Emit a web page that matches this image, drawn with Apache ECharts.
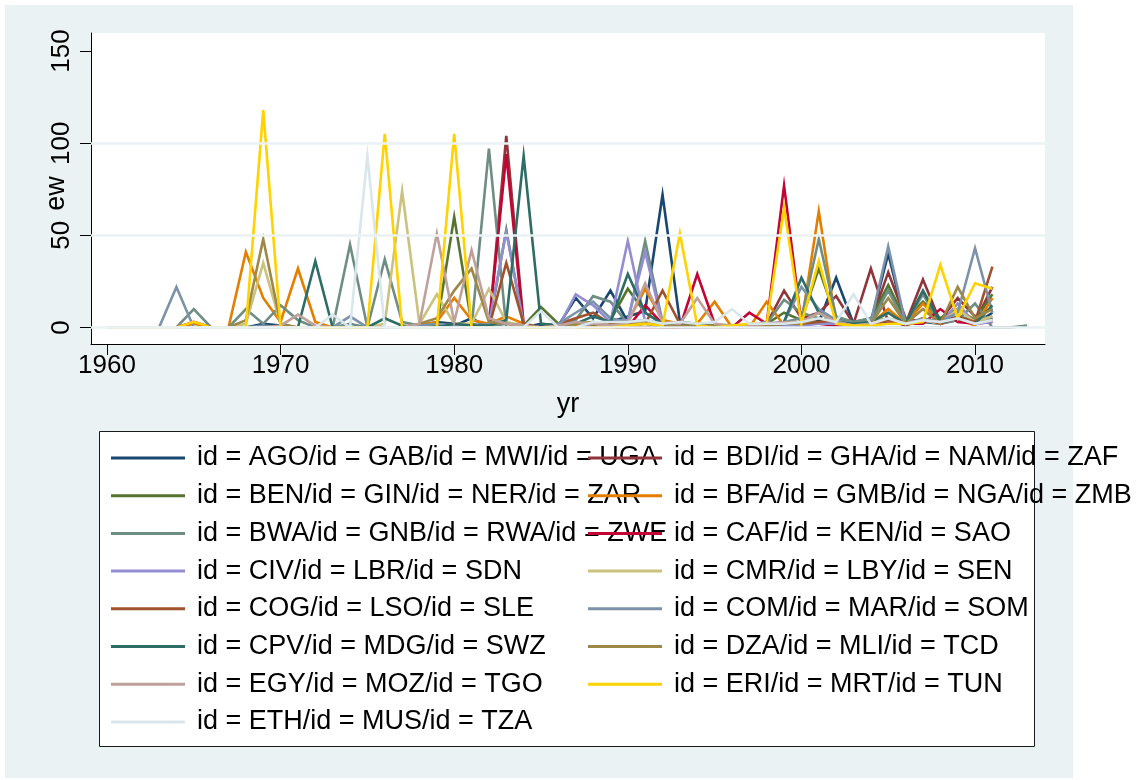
<!DOCTYPE html>
<html>
<head>
<meta charset="utf-8">
<title>ew by yr</title>
<script src="https://cdn.jsdelivr.net/npm/echarts@6/dist/echarts.min.js"></script>
<style>
  html, body { margin: 0; padding: 0; background: #ffffff; }
  #chart { width: 1142px; height: 780px; }
</style>
</head>
<body>
<div id="chart"></div>
<script>
// Years on the x axis (1960-2013)
const years = [
  1960, 1961, 1962, 1963, 1964, 1965, 1966, 1967, 1968, 1969,
  1970, 1971, 1972, 1973, 1974, 1975, 1976, 1977, 1978, 1979,
  1980, 1981, 1982, 1983, 1984, 1985, 1986, 1987, 1988, 1989,
  1990, 1991, 1992, 1993, 1994, 1995, 1996, 1997, 1998, 1999,
  2000, 2001, 2002, 2003, 2004, 2005, 2006, 2007, 2008, 2009,
  2010, 2011, 2012, 2013
];

const xTicks = [1960, 1970, 1980, 1990, 2000, 2010];
const yTicks = [0, 50, 100, 150];
const yGrid = [0, 50, 100];

// Legend labels, one per colour group
const groupNames = [
  'id = AGO/id = GAB/id = MWI/id = UGA',
  'id = BDI/id = GHA/id = NAM/id = ZAF',
  'id = BEN/id = GIN/id = NER/id = ZAR',
  'id = BFA/id = GMB/id = NGA/id = ZMB',
  'id = BWA/id = GNB/id = RWA/id = ZWE',
  'id = CAF/id = KEN/id = SAO',
  'id = CIV/id = LBR/id = SDN',
  'id = CMR/id = LBY/id = SEN',
  'id = COG/id = LSO/id = SLE',
  'id = COM/id = MAR/id = SOM',
  'id = CPV/id = MDG/id = SWZ',
  'id = DZA/id = MLI/id = TCD',
  'id = EGY/id = MOZ/id = TGO',
  'id = ERI/id = MRT/id = TUN',
  'id = ETH/id = MUS/id = TZA'
];

// ew per year, each array starts in 1960
const agoLine = [0,0,0,0,0,0,0,0,0,0, 0,0,0,0,0,0,0,0,0,1, 1,5,0,0,0,1,1,2,2,3, 6,9,72,3,2,1,0,2,1,3, 2,4,3,2,3,40,2,4,3,5, 2,8];
const gabLine = [0,0,0,0,0,0,0,0,0,2, 1,0,0,0,0,0,0,0,1,3, 2,1,0,0,0,2,1,16,5,20, 3,2,1,1,1,1,0,1,1,2, 2,3,27,2,2,3,2,3,2,4, 2,5];
const bdiLine = [0,0,0,0,0,0,0,0,0,0, 0,0,0,0,0,0,0,0,0,0, 0,0,0,104,2,0,0,0,2,3, 0,3,0,0,0,0,0,0,1,3, 2,3,4,2,32,3,2,26,3,4, 3,22];
const ghaLine = [0,0,0,0,0,0,0,0,0,0, 0,0,0,0,0,0,0,0,0,0, 0,0,0,0,0,0,0,0,0,0, 0,0,0,0,0,0,0,0,2,20, 5,8,17,2,3,30,5,3,4,16, 6,10];
const benLine = [0,0,0,0,0,0,0,0,0,0, 0,0,0,0,0,0,0,0,0,1, 60,2,0,53,1,11,2,1,1,4, 21,8,2,1,0,1,0,1,2,8, 4,32,5,3,5,23,4,14,5,10, 4,18];
const bfaLine = [0,0,0,0,0,2,0,0,41,16, 3,32,3,0,0,0,0,0,1,3, 16,4,2,6,2,0,0,1,2,1, 3,21,4,2,2,14,0,0,14,1, 2,63,2,1,2,10,2,13,2,5, 1,16];
const bwaLine = [0,0,0,0,0,0,0,0,0,0, 0,0,0,0,45,0,0,0,0,0, 2,0,97,0,1,0,1,2,3,2, 3,47,3,1,1,0,1,1,0,3, 5,48,6,3,5,4,4,3,3,6, 4,6];
const rwaLine = [0,0,0,0,0,10,0,0,10,2, 12,4,0,0,2,0,37,3,1,0, 1,0,2,0,1,0,2,4,17,14, 2,3,2,1,1,0,1,1,2,15, 8,5,3,2,3,20,2,18,2,4, 13,0,0,1];
const cafLine = [0,0,0,0,0,3,0,0,0,0, 0,0,0,0,0,0,0,0,0,0, 0,0,0,94,0,0,0,0,0,0, 0,12,2,0,29,2,0,8,2,77, 2,2,1,2,2,2,2,2,10,3, 2,3];
const civLine = [0,0,0,0,0,0,0,0,0,0, 0,0,0,0,0,0,0,0,0,0, 0,0,2,52,2,0,0,18,12,3, 47,3,2,1,1,1,0,1,3,1, 1,2,2,1,2,4,2,4,2,13, 2,3];
const sdnLine = [0,0,0,0,0,0,0,0,0,0, 0,0,0,0,0,0,0,0,0,0, 0,0,0,0,0,0,0,0,2,3, 4,41,2,0,0,0,0,0,0,0, 0,0,0,0,0,0,0,0,0,0, 0,0];
const cmrLine = [0,0,0,0,0,0,0,0,2,35, 2,0,0,0,0,0,2,74,2,18, 2,2,21,3,1,0,0,2,3,2, 3,3,1,1,1,1,1,0,1,3, 2,8,3,1,2,8,1,4,2,10, 3,6];
const cogLine = [0,0,0,0,0,0,0,0,0,0, 0,0,0,0,0,0,0,0,0,0, 0,0,0,35,2,0,2,5,8,2, 1,2,20,2,1,1,1,1,1,2, 2,3,4,1,2,4,1,5,2,6, 3,33];
const comLine = [0,0,0,0,22,0,0,0,0,1, 0,0,0,0,6,0,0,0,1,2, 1,1,2,2,1,0,2,8,14,5, 3,4,2,1,1,1,1,1,2,3, 22,10,4,2,3,44,2,5,3,8, 43,8];
const cpvLine = [0,0,0,0,0,0,0,0,0,0, 0,0,36,0,0,0,5,1,0,0, 2,1,1,4,93,2,1,2,6,3, 29,8,2,1,1,1,1,1,1,3, 27,8,3,2,3,8,2,20,3,5, 2,12];
const dzaLine = [0,0,0,0,0,0,0,0,4,48, 2,0,0,0,0,0,0,0,2,5, 20,32,3,2,1,0,1,2,3,1, 2,2,1,1,1,1,1,1,1,2, 2,5,3,1,2,16,2,10,2,22, 5,10];
const egyLine = [0,0,0,0,0,0,0,0,0,0, 1,7,1,0,0,0,0,0,2,51, 3,42,5,2,1,0,1,3,2,1, 2,24,3,2,16,2,1,1,2,3, 3,8,3,1,2,5,2,4,3,5, 2,4];
const eriLine = [0,0,0,0,0,3,0,0,0,118, 0,0,0,0,0,0,105,0,0,0, 105,0,0,0,0,0,0,0,0,0, 1,2,1,51,1,0,1,2,2,65, 2,36,2,1,1,2,2,3,34,5, 24,21];
const ethLine = [0,0,0,0,0,0,0,0,0,0, 0,0,0,7,0,93,0,0,0,0, 0,0,0,0,0,9,0,0,3,3, 3,4,2,3,2,3,10,2,2,2, 3,5,3,18,2,5,2,4,3,5, 2,4];

// Lines belonging to each colour group
const groupLines = [
  [agoLine, gabLine],
  [bdiLine, ghaLine],
  [benLine],
  [bfaLine],
  [bwaLine, rwaLine],
  [cafLine],
  [civLine, sdnLine],
  [cmrLine],
  [cogLine],
  [comLine],
  [cpvLine],
  [dzaLine],
  [egyLine],
  [eriLine],
  [ethLine]
];

// Stata s2color palette
const palette = [
  '#1a476f', '#90353b', '#55752f', '#e37e00', '#6e8e84',
  '#c10534', '#938dd2', '#cac27e', '#a0522d', '#7b92a8',
  '#2d6d66', '#9c8847', '#bfa19c', '#ffd200', '#d9e6eb'
];

const FONT = '"Liberation Sans", Arial, Helvetica, sans-serif';
const chart = echarts.init(document.getElementById('chart'), null, { renderer: 'canvas' });

const series = [{
  type: 'line',
  data: [],
  silent: true,
  z: 1,
  markLine: {
    silent: true,
    animation: false,
    symbol: ['none', 'none'],
    label: { show: false },
    lineStyle: { color: '#eaf2f3', width: 2.5, type: 'solid' },
    emphasis: { disabled: true },
    data: yGrid.map(v => ({ yAxis: v }))
  }
}];

groupNames.forEach((name, g) => {
  groupLines[g].forEach(vals => {
    series.push({
      type: 'line',
      name: name,
      data: vals.map((v, i) => [years[i], v]),
      symbol: 'none',
      showSymbol: false,
      color: palette[g],
      itemStyle: { color: palette[g] },
      lineStyle: { width: 2.6, color: palette[g], join: 'miter' },
      emphasis: { disabled: true },
      z: 3
    });
  });
});

const legendCommon = {
  orient: 'vertical',
  top: 442.5,
  padding: 0,
  itemWidth: 74,
  itemHeight: 3,
  itemGap: 6.7,
  icon: 'rect',
  selectedMode: false,
  textStyle: { fontFamily: FONT, fontSize: 27, color: '#000', lineHeight: 31, padding: [0, 0, 0, 7] }
};

const plainNumber = v => String(v);

chart.setOption({
  animation: false,
  backgroundColor: '#ffffff',
  textStyle: { fontFamily: FONT },
  graphic: [
    { type: 'rect', silent: true, z: -100, shape: { x: 5, y: 5, width: 1068, height: 773 }, style: { fill: '#eaf2f3' } },
    { type: 'rect', silent: true, z: 1, shape: { x: 99.5, y: 431.5, width: 935, height: 315 }, style: { fill: '#ffffff', stroke: '#1a1a1a', lineWidth: 1 } }
  ],
  grid: {
    left: 91, right: 97, top: 33, bottom: 436,
    show: true, backgroundColor: '#ffffff', borderWidth: 0,
    containLabel: false, outerBoundsMode: 'none'
  },
  legend: [
    Object.assign({}, legendCommon, { left: 111, z: 4, data: groupNames.filter((n, i) => i % 2 === 0) }),
    Object.assign({}, legendCommon, { left: 588, z: 5, data: groupNames.filter((n, i) => i % 2 === 1) })
  ],
  xAxis: {
    type: 'value',
    min: 1959.08, max: 2014.03,
    name: 'yr', nameLocation: 'middle', nameGap: 47, nameMoveOverlap: false,
    nameTextStyle: { fontFamily: FONT, fontSize: 27, color: '#000' },
    axisLine: { show: true, onZero: false, lineStyle: { color: '#000', width: 1 } },
    axisTick: { show: true, length: 11, customValues: xTicks, lineStyle: { color: '#000', width: 1 } },
    axisLabel: { customValues: xTicks, formatter: plainNumber, fontFamily: FONT, fontSize: 26, color: '#000', margin: 9 },
    splitLine: { show: false }
  },
  yAxis: {
    type: 'value',
    min: -8.97, max: 159.8,
    name: 'ew', nameLocation: 'middle', nameGap: 21, nameRotate: 90, nameMoveOverlap: false,
    nameTextStyle: { fontFamily: FONT, fontSize: 27, color: '#000', padding: [0, 10, 0, 0] },
    axisLine: { show: true, onZero: false, lineStyle: { color: '#000', width: 1 } },
    axisTick: { show: true, length: 11, customValues: yTicks, lineStyle: { color: '#000', width: 1 } },
    axisLabel: { customValues: yTicks, formatter: plainNumber, rotate: 90, fontFamily: FONT, fontSize: 26, color: '#000', margin: 16 },
    splitLine: { show: false }
  },
  series: series
});
</script>
</body>
</html>
